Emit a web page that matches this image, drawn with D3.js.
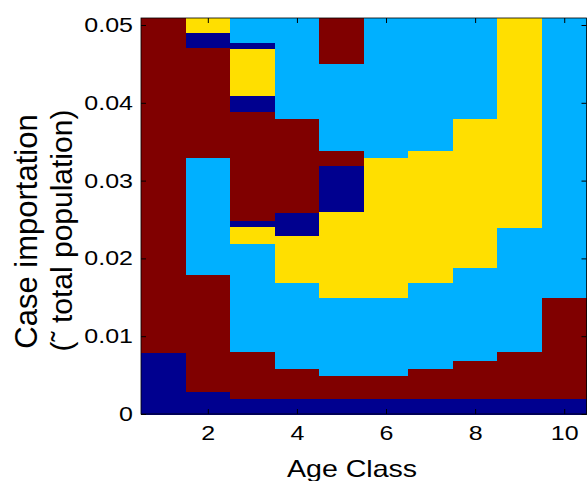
<!DOCTYPE html>
<html>
<head>
<meta charset="utf-8">
<script src="https://cdn.jsdelivr.net/npm/d3@7/dist/d3.min.js"></script>
<style>
	html, body { margin: 0; padding: 0; background: #fff; overflow: hidden; }
	#svg-container { width: 587px; height: 481px; }
</style>
</head>
<body>
<div id="svg-container"></div>
<script>
// age classes along x
var ageClasses = [1, 2, 3, 4, 5, 6, 7, 8, 9, 10];
var xTicks = [2, 4, 6, 8, 10];
var yTicks = [0, 0.01, 0.02, 0.03, 0.04, 0.05];
var yTickLabels = ['0', '0.01', '0.02', '0.03', '0.04', '0.05'];
var yMax = 0.0509;

// 0 dark blue, 1 light blue, 2 yellow, 3 dark red
var stateColors = ['#00008f', '#00b0ff', '#ffdf00', '#800000'];

// for each age class: upper edge of every band (x 1e-3) and the state of that band
var bandTops = [
	[7.9, 50.9],
	[2.87, 17.9, 33.0, 47.1, 49.1, 50.9],
	[1.93, 8.0, 21.9, 24.1, 24.9, 38.9, 41.0, 47.0, 47.8, 50.9],
	[1.93, 5.87, 16.9, 22.9, 25.9, 38.0, 50.9],
	[1.93, 4.92, 15.0, 26.0, 32.0, 33.9, 45.1, 50.9],
	[1.93, 4.92, 15.0, 33.0, 50.9],
	[1.93, 5.87, 16.9, 33.9, 50.9],
	[1.93, 6.94, 18.8, 38.0, 50.9],
	[1.93, 8.0, 24.0, 50.9],
	[1.93, 15.0, 50.9]
];
var bandStates = [
	[0, 3],
	[0, 3, 1, 3, 0, 2],
	[0, 3, 1, 2, 0, 3, 0, 2, 0, 1],
	[0, 3, 1, 2, 0, 3, 1],
	[0, 3, 1, 2, 0, 3, 1, 3],
	[0, 3, 1, 2, 1],
	[0, 3, 1, 2, 1],
	[0, 3, 1, 2, 1],
	[0, 3, 1, 2],
	[0, 3, 1]
];

function PhasePlot(options) {
	this.options = options || {};
	this.container = this.options.container || '#svg-container';
	this.box = {left: 141, right: 586.5, top: 18, bottom: 414};
	this.init();
}

PhasePlot.prototype = {
	constructor: PhasePlot,

	init: function () {
		this.x = d3.scaleLinear().domain([0.5, 10.5]).range([this.box.left, this.box.right]);
		this.y = d3.scaleLinear().domain([0, yMax]).range([this.box.bottom, this.box.top]);
		this.svg = d3.select(this.container).append('svg').attr('width', 587).attr('height', 481);
		this.drawCells();
		this.drawAxes();
		this.drawLabels();
	},

	_cells: function () {
		var cells = [];
		for (var i = 0; i < ageClasses.length; i++) {
			var lo = 0;
			for (var j = 0; j < bandTops[i].length; j++) {
				var hi = bandTops[i][j] / 1000;
				cells.push({age: ageClasses[i], lo: lo, hi: hi, state: bandStates[i][j]});
				lo = hi;
			}
		}
		return cells;
	},

	drawCells: function () {
		var x = this.x, y = this.y;
		this.svg.append('g').attr('id', 'cells')
			.selectAll('rect')
			.data(this._cells())
			.enter().append('rect')
			.attr('x', function (d) { return x(d.age - 0.5); })
			.attr('width', function (d) { return x(d.age + 0.5) - x(d.age - 0.5) + 0.5; })
			.attr('y', function (d) { return y(Math.min(d.hi, yMax)); })
			.attr('height', function (d) { return y(d.lo) - y(Math.min(d.hi, yMax)) + 0.5; })
			.attr('fill', function (d) { return stateColors[d.state]; })
			.attr('shape-rendering', 'crispEdges');
	},

	_style: function (g) {
		g.select('.domain').remove();
		g.selectAll('line').attr('stroke', '#000').attr('stroke-width', 1);
		g.selectAll('text')
			.attr('fill', '#000')
			.attr('font-family', '"Liberation Sans", Arial, sans-serif')
			.attr('font-size', 20)
			.attr('transform', 'scale(1.25,1)');
	},

	drawAxes: function () {
		var b = this.box;
		var xAxis = d3.axisBottom(this.x).tickValues(xTicks).tickSizeInner(-5).tickSizeOuter(0).tickPadding(11.8);
		var yAxis = d3.axisLeft(this.y).tickValues(yTicks)
			.tickFormat(function (d, i) { return yTickLabels[i]; })
			.tickSizeInner(-5).tickSizeOuter(0).tickPadding(6.4);
		var topAxis = d3.axisTop(this.x).tickValues(xTicks).tickSizeInner(-5).tickSizeOuter(0).tickFormat('');
		var rightAxis = d3.axisRight(this.y).tickValues(yTicks).tickSizeInner(-5).tickSizeOuter(0).tickFormat('');

		this._style(this.svg.append('g').attr('transform', 'translate(0,' + b.bottom + ')').call(xAxis));
		this._style(this.svg.append('g').attr('transform', 'translate(' + b.left + ',0)').call(yAxis));
		this._style(this.svg.append('g').attr('transform', 'translate(0,' + b.top + ')').call(topAxis));
		this._style(this.svg.append('g').attr('transform', 'translate(' + b.right + ',0)').call(rightAxis));

		this.svg.append('rect')
			.attr('x', b.left).attr('y', b.top)
			.attr('width', b.right - b.left).attr('height', b.bottom - b.top)
			.attr('fill', 'none').attr('stroke', '#000').attr('stroke-width', 0.8);
	},

	drawLabels: function () {
		var font = '"Liberation Sans", Arial, sans-serif';
		this.svg.append('text')
			.attr('transform', 'translate(352,477) scale(1.19,1)')
			.attr('text-anchor', 'middle')
			.attr('font-family', font).attr('font-size', 24)
			.text('Age Class');

		this.svg.append('text')
			.attr('transform', 'translate(37,231.5) rotate(-90)')
			.attr('text-anchor', 'middle')
			.attr('font-family', font).attr('font-size', 31)
			.text('Case importation');

		this.svg.append('text')
			.attr('transform', 'translate(72,230.5) rotate(-90)')
			.attr('text-anchor', 'middle')
			.attr('font-family', font).attr('font-size', 30)
			.text('(\u02dc total population)');
	}
};

new PhasePlot({container: '#svg-container'});
</script>
</body>
</html>
